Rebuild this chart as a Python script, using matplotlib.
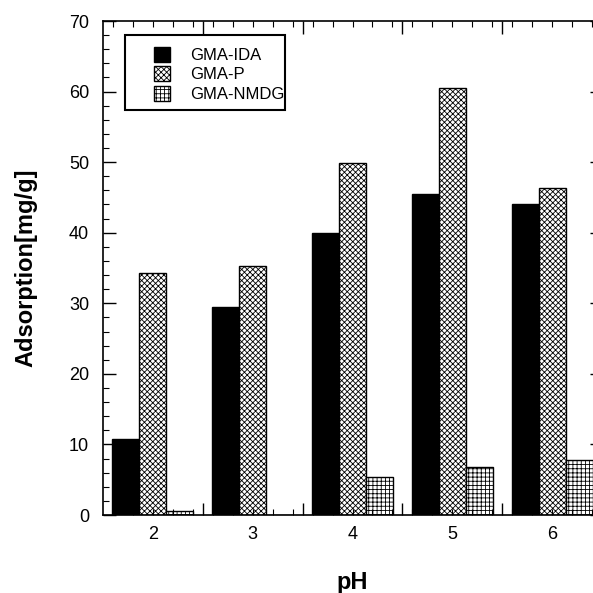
import numpy as np
import matplotlib
matplotlib.use("Agg")
import matplotlib.pyplot as plt
from matplotlib.ticker import MultipleLocator
from matplotlib.patches import Rectangle

plt.rcParams['font.family'] = ['Liberation Sans', 'DejaVu Sans']
plt.rcParams['hatch.linewidth'] = 0.6

ph = [2, 3, 4, 5, 6]
gma_ida = [10.8, 29.5, 40.0, 45.5, 44.0]
gma_p = [34.3, 35.3, 49.9, 60.5, 46.3]
gma_nmdg = [0.5, 0.0, 5.4, 6.8, 7.8]

fig = plt.figure(figsize=(5.93, 5.93), dpi=100)
ax = fig.add_axes([103/593, 78/593, 499/593, 494/593])

x = np.array(ph)
w = 0.27
ax.bar(x - w, gma_ida, w, color='black', edgecolor='black', linewidth=1, label='GMA-IDA')
ax.bar(x, gma_p, w, color='white', edgecolor='black', linewidth=1, hatch='xxxxxx', label='GMA-P')
ax.bar(x + w, gma_nmdg, w, color='white', edgecolor='black', linewidth=1, hatch='++++', label='GMA-NMDG')

ax.set_xlim(1.5, 6.5)
ax.set_ylim(0, 70)

# x axis: long ticks between groups, short ticks every 0.2, labels at group centers
ax.set_xticks([2.5, 3.5, 4.5, 5.5])
ax.set_xticklabels([])
ax.xaxis.set_minor_locator(MultipleLocator(0.2))
ax.tick_params(axis='x', which='major', direction='in', length=9, width=1, top=True)
ax.tick_params(axis='x', which='minor', direction='in', length=4, width=0.8, top=True)

sec = ax.secondary_xaxis('bottom')
sec.set_xticks(ph)
sec.set_xticklabels([str(p) for p in ph], fontsize=13)
sec.tick_params(length=0, pad=8)
sec.spines['bottom'].set_visible(False)

ax.yaxis.set_major_locator(MultipleLocator(10))
ax.yaxis.set_minor_locator(MultipleLocator(2))
ax.tick_params(axis='y', which='major', direction='in', length=9, width=1, right=True, labelsize=13, pad=10)
ax.tick_params(axis='y', which='minor', direction='in', length=4, width=0.8, right=True)

for s in ax.spines.values():
    s.set_linewidth(1.2)

ax.set_ylabel('Adsorption[mg/g]', fontsize=17, fontweight='bold', labelpad=23)
sec.set_xlabel('pH', fontsize=17, fontweight='bold', labelpad=20)

# legend without its own frame, box drawn separately
leg = ax.legend(loc='upper left', bbox_to_anchor=(0.092, 0.958), borderaxespad=0,
                fontsize=12, frameon=False,
                handlelength=0.95, handleheight=1.0, handletextpad=1.2,
                labelspacing=0.2, borderpad=0.3)
box = Rectangle((22/499, (515-110)/494), 160/499, 75/494, transform=ax.transAxes,
                fill=False, edgecolor='black', linewidth=1.5, zorder=4)
ax.add_patch(box)

fig.savefig('out.png', dpi=100)
